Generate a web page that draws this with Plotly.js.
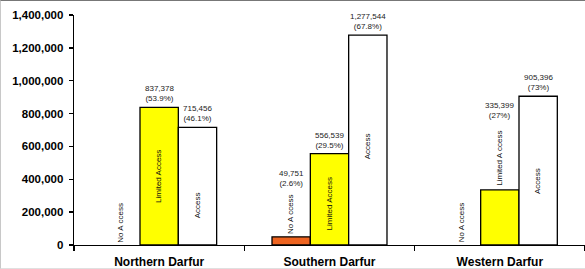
<!DOCTYPE html>
<html>
<head>
<meta charset="utf-8">
<script src="https://cdn.plot.ly/plotly-3.0.1.min.js"></script>
<style>
  html, body { margin: 0; padding: 0; background: #fff; }
  #wrap { position: relative; width: 585px; height: 269px; }
  #chart { width: 585px; height: 269px; }
  #frame { position: absolute; left: 0; top: 0; width: 585px; height: 269px;
           border-top: 1px solid #777; border-left: 1px solid #c8c8c8; border-bottom: 1px solid #e0e0e0;
           pointer-events: none; box-sizing: border-box; }
</style>
</head>
<body>
<div id="wrap">
  <div id="chart"></div>
  <div id="frame"></div>
</div>
<script>
// ---- data ----
const regions = ["Northern Darfur", "Southern Darfur", "Western Darfur"];
const seriesNames = ["No Access", "Limited Access", "Access"];
const noAccess      = [0, 49751, 0];
const limitedAccess = [837378, 556539, 335399];
const access        = [715456, 1277544, 905396];
const noAccessPct      = [null, "2.6%", null];
const limitedAccessPct = ["53.9%", "29.5%", "27%"];
const accessPct        = ["46.1%", "67.8%", "73%"];
// in-bar rotated labels (as printed in the source)
const noAccessLabel      = ["No A ccess", "No A ccess", "No A ccess"];
const limitedAccessLabel = ["Limited Access", "Limited Access", "Limited A ccess"];
const accessLabel        = ["Access", "Access", "Access"];
const yTickVals = [0, 200000, 400000, 600000, 800000, 1000000, 1200000, 1400000];

// ---- label placement (y in axis units, not data) ----
const nameLabelY = [
  [135000, 415000, 245000],
  [190000, 250000, 600000],
  [135000, 530000, 390000]
];
const valueLabelY = [
  [null, null, null],
  [335000, null, null],
  [null, 750000, null]
];

const colors = ["#EE6420", "#FFFF00", "#FFFFFF"];
const values = [noAccess, limitedAccess, access];
const pcts = [noAccessPct, limitedAccessPct, accessPct];
const names = [noAccessLabel, limitedAccessLabel, accessLabel];

const bargap = 0.325;
const barW = (1 - bargap) / 3;

const traces = values.map((v, j) => ({
  type: "bar",
  name: seriesNames[j],
  x: regions,
  y: v.map(d => (d === 0 ? null : d)),
  marker: { color: colors[j], line: { color: "#000", width: 1.3 } },
  hoverinfo: "x+y+name"
}));

const fmt = n => n.toLocaleString("en-US");
const annotations = [];
for (let i = 0; i < regions.length; i++) {
  for (let j = 0; j < 3; j++) {
    const xPos = i + (j - 1) * barW;
    annotations.push({
      x: xPos, y: nameLabelY[i][j], xref: "x", yref: "y",
      text: names[j][i], textangle: -90, showarrow: false,
      font: { family: "Liberation Sans, Arial, sans-serif", size: 8, color: "#111" }
    });
    if (values[j][i] > 0 && pcts[j][i]) {
      const vy = valueLabelY[i][j];
      annotations.push({
        x: xPos, y: vy !== null ? vy : values[j][i], xref: "x", yref: "y",
        yanchor: "bottom", yshift: vy !== null ? 0 : 2,
        text: fmt(values[j][i]) + "<br>(" + pcts[j][i] + ")",
        showarrow: false,
        font: { family: "Liberation Sans, Arial, sans-serif", size: 8, color: "#222" }
      });
    }
  }
}

const layout = {
  width: 585, height: 269,
  margin: { l: 74, r: 0, t: 15, b: 24 },
  paper_bgcolor: "#fff", plot_bgcolor: "#fff",
  showlegend: false,
  barmode: "group", bargap: bargap, bargroupgap: 0,
  font: { family: "Liberation Sans, Arial, sans-serif", color: "#000" },
  xaxis: {
    type: "category",
    showline: true, linecolor: "#000", linewidth: 1.3,
    ticks: "outside", tickson: "boundaries", ticklen: 5, tickcolor: "#000", tickwidth: 1.3,
    tickfont: { size: 12, family: "Liberation Sans, Arial, sans-serif", weight: "bold" },
    ticklabelstandoff: 5,
    showgrid: false, zeroline: false, fixedrange: true
  },
  yaxis: {
    range: [0, 1400000],
    tickvals: yTickVals, ticktext: yTickVals.map(fmt),
    showline: true, linecolor: "#000", linewidth: 1.3,
    ticks: "outside", ticklen: 4, tickcolor: "#000", tickwidth: 1.3,
    tickfont: { size: 11.5, family: "Liberation Sans, Arial, sans-serif", weight: "bold" },
    ticklabelstandoff: 3,
    showgrid: false, zeroline: false, fixedrange: true
  },
  annotations: annotations
};

Plotly.newPlot("chart", traces, layout, { displayModeBar: false, staticPlot: true });
</script>
</body>
</html>
